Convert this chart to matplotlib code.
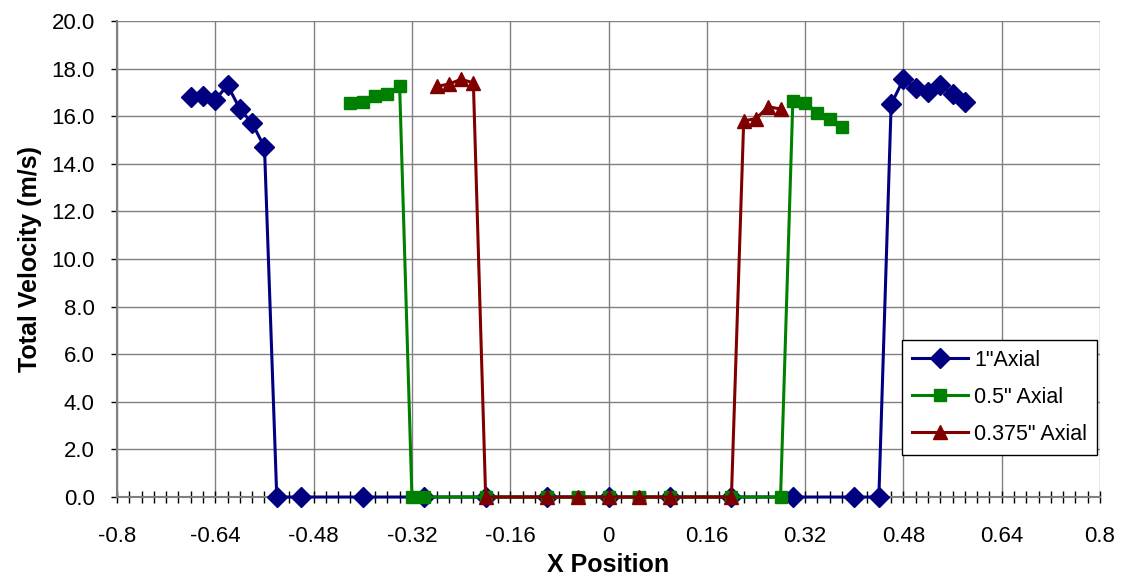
import matplotlib
matplotlib.use("Agg")
import matplotlib.pyplot as plt
import numpy as np
from matplotlib.ticker import FuncFormatter, MultipleLocator

plt.rcParams['font.family'] = ['Liberation Sans', 'DejaVu Sans']

# 1" Axial
x_1in = [-0.68, -0.66, -0.64, -0.62, -0.60, -0.58, -0.56, -0.54, -0.50, -0.40, -0.30,
         -0.20, -0.10, 0.0, 0.10, 0.20, 0.30, 0.40, 0.44,
         0.46, 0.48, 0.50, 0.52, 0.54, 0.56, 0.58]
v_1in = [16.8, 16.85, 16.7, 17.3, 16.3, 15.7, 14.7, 0, 0, 0, 0,
         0, 0, 0, 0, 0, 0, 0, 0,
         16.5, 17.55, 17.2, 17.0, 17.3, 16.95, 16.6]

# 0.5" Axial
x_05in = [-0.42, -0.40, -0.38, -0.36, -0.34, -0.32, -0.30, -0.20, -0.10, -0.05,
          0.0, 0.05, 0.10, 0.20, 0.28, 0.30, 0.32, 0.34, 0.36, 0.38]
v_05in = [16.55, 16.6, 16.85, 16.95, 17.25, 0, 0, 0, 0, 0,
          0, 0, 0, 0, 0, 16.65, 16.55, 16.15, 15.9, 15.55]

# 0.375" Axial
x_0375in = [-0.28, -0.26, -0.24, -0.22, -0.20, -0.10, -0.05, 0.0, 0.05, 0.10,
            0.20, 0.22, 0.24, 0.26, 0.28]
v_0375in = [17.25, 17.35, 17.55, 17.4, 0, 0, 0, 0, 0, 0,
            0, 15.8, 15.9, 16.4, 16.3]

labels = ['1"Axial', '0.5" Axial', '0.375" Axial']
colors = ['#000080', '#008000', '#800000']

fig = plt.figure(figsize=(11.21, 5.77), dpi=100)
ax = fig.add_axes([0.1044, 0.1386, 0.8769, 0.825])

ax.plot(x_1in, v_1in, color=colors[0], lw=2.2, marker='D', ms=10.5,
        mec=colors[0], label=labels[0], zorder=3, clip_on=False)
ax.plot(x_05in, v_05in, color=colors[1], lw=2.2, marker='s', ms=8,
        mec=colors[1], label=labels[1], zorder=4, clip_on=False)
ax.plot(x_0375in, v_0375in, color=colors[2], lw=2.2, marker='^', ms=10,
        mec=colors[2], label=labels[2], zorder=5, clip_on=False)

ax.set_xlim(-0.8, 0.8)
ax.set_ylim(0, 20)
ax.set_xticks(np.round(np.arange(-5, 6) * 0.16, 2))
ax.xaxis.set_minor_locator(MultipleLocator(0.02))
ax.set_yticks(np.arange(0, 21, 2))
ax.xaxis.set_major_formatter(FuncFormatter(lambda v, p: f"{round(v, 2) + 0:g}"))
ax.yaxis.set_major_formatter(FuncFormatter(lambda v, p: f"{v:.1f}"))

ax.grid(True, which='major', color='#808080', lw=1)
ax.set_axisbelow(True)
for s in ['top', 'right']:
    ax.spines[s].set_visible(False)
for s in ['left', 'bottom']:
    ax.spines[s].set_color('#808080')
    ax.spines[s].set_linewidth(1.5)

ax.tick_params(axis='x', which='both', direction='inout', length=9, width=1,
               color='black', labelsize=16, pad=16)
ax.tick_params(axis='y', which='major', direction='out', length=4, width=1,
               color='black', labelsize=16, pad=12)

ax.set_xlabel('X Position', fontsize=18, fontweight='bold', labelpad=5)
ax.set_ylabel('Total Velocity (m/s)', fontsize=18, fontweight='bold', labelpad=7)

leg = ax.legend(loc='upper left', bbox_to_anchor=(0.7986, 0.3298), fontsize=15.5,
                fancybox=False, edgecolor='black', framealpha=1,
                handlelength=2.6, labelspacing=0.75, borderpad=0.45,
                handletextpad=0.3, borderaxespad=0)
leg.get_frame().set_linewidth(1)

fig.savefig('out.png', dpi=100)
